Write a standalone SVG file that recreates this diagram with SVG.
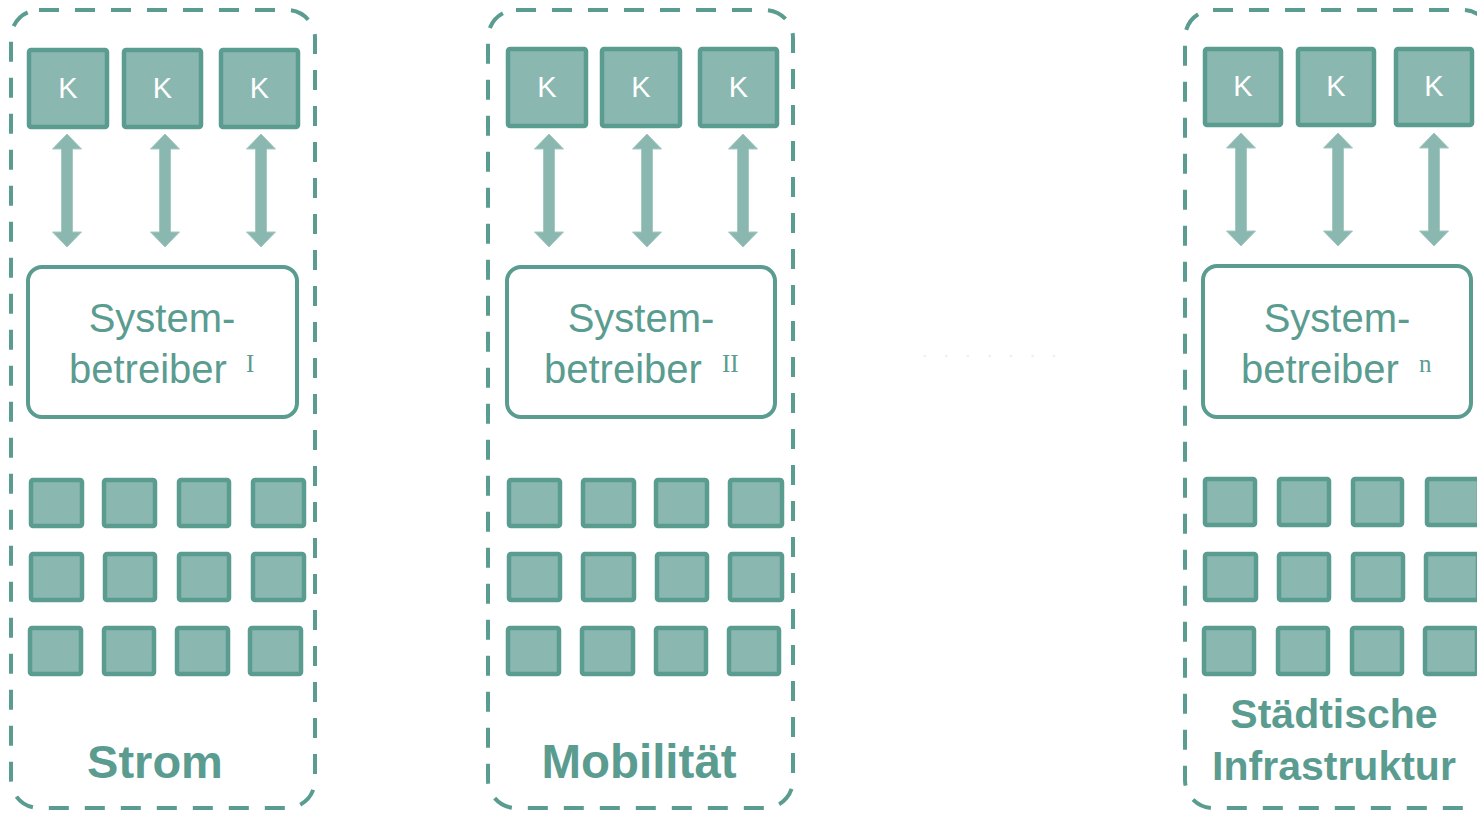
<svg xmlns="http://www.w3.org/2000/svg" xmlns:xlink="http://www.w3.org/1999/xlink" width="1477" height="813" viewBox="0 0 1477 813">
<style>
.panel{fill:none;stroke:#5a9c90;stroke-width:4;stroke-dasharray:20 16}
.k{fill:#8ab7af;stroke:#5a9c90;stroke-width:4.5}
.kt{fill:#ffffff;font-family:"Liberation Sans",Arial,sans-serif;font-size:29px;text-anchor:middle}
.sys{fill:#ffffff;stroke:#5a9c90;stroke-width:4}
.st{fill:#5a9c90;font-family:"Liberation Sans",Arial,sans-serif;font-size:40px}
.sup{fill:#5a9c90;font-family:"Liberation Serif","Times New Roman",serif;font-size:25px}
.sq{fill:#8ab7af;stroke:#5a9c90;stroke-width:4.5}
.lbl{fill:#5a9c90;font-family:"Liberation Sans",Arial,sans-serif;font-weight:bold;text-anchor:middle}
.arr{fill:#8ab7af;stroke:#a3c9c2;stroke-width:1}
</style>
<defs>
<path id="arrow" class="arr" d="M0,134 L14.5,149 L5.5,149 L5.5,232 L14.5,232 L0,247 L-14.5,232 L-5.5,232 L-5.5,149 L-14.5,149 Z"/>
</defs>
<rect width="1477" height="813" fill="#ffffff"/>

<!-- Panel 1: Strom -->
<g id="panel-strom">
<rect class="panel" x="11" y="10" width="304" height="798" rx="28"/>
<text class="lbl" x="155" y="778" font-size="47">Strom</text>
</g>
<g id="k1-1"><rect class="k" x="29" y="50" width="78" height="77" rx="2"/><text class="kt" x="68" y="98">K</text></g>
<g id="k1-2"><rect class="k" x="124" y="50" width="77" height="77" rx="2"/><text class="kt" x="162.5" y="98">K</text></g>
<g id="k1-3"><rect class="k" x="221" y="50" width="77" height="77" rx="2"/><text class="kt" x="259.5" y="98">K</text></g>
<g id="sys1">
<rect class="sys" x="28" y="267" width="269" height="150" rx="14"/>
<text class="st" x="162" y="332" text-anchor="middle">System-</text>
<text class="st" x="69" y="383">betreiber</text>
<text class="sup" x="246" y="372">I</text>
</g>
<g id="grid1">
<rect class="sq" x="31" y="480" width="51" height="46" rx="2"/>
<rect class="sq" x="104" y="480" width="51" height="46" rx="2"/>
<rect class="sq" x="179" y="480" width="50" height="46" rx="2"/>
<rect class="sq" x="253" y="480" width="51" height="46" rx="2"/>
<rect class="sq" x="31" y="554" width="51" height="46" rx="2"/>
<rect class="sq" x="105" y="554" width="50" height="46" rx="2"/>
<rect class="sq" x="179" y="554" width="50" height="46" rx="2"/>
<rect class="sq" x="253" y="554" width="51" height="46" rx="2"/>
<rect class="sq" x="30" y="628" width="51" height="46" rx="2"/>
<rect class="sq" x="104" y="628" width="50" height="46" rx="2"/>
<rect class="sq" x="177" y="628" width="51" height="46" rx="2"/>
<rect class="sq" x="250" y="628" width="51" height="46" rx="2"/>
</g>

<!-- Panel 2: Mobilität -->
<g id="panel-mobilitaet">
<rect class="panel" x="488" y="10" width="305" height="798" rx="28"/>
<text class="lbl" x="639" y="778" font-size="47.5">Mobilität</text>
</g>
<g id="k2-1"><rect class="k" x="508" y="49" width="78" height="77" rx="2"/><text class="kt" x="547" y="97">K</text></g>
<g id="k2-2"><rect class="k" x="602" y="49" width="78" height="77" rx="2"/><text class="kt" x="641" y="97">K</text></g>
<g id="k2-3"><rect class="k" x="700" y="49" width="77" height="77" rx="2"/><text class="kt" x="738.5" y="97">K</text></g>
<g id="sys2">
<rect class="sys" x="507" y="267" width="268" height="150" rx="14"/>
<text class="st" x="641" y="332" text-anchor="middle">System-</text>
<text class="st" x="544" y="383">betreiber</text>
<text class="sup" x="722" y="372">II</text>
</g>
<g id="grid2">
<rect class="sq" x="509" y="480" width="51" height="46" rx="2"/>
<rect class="sq" x="583" y="480" width="51" height="46" rx="2"/>
<rect class="sq" x="656" y="480" width="51" height="46" rx="2"/>
<rect class="sq" x="730" y="480" width="52" height="46" rx="2"/>
<rect class="sq" x="509" y="554" width="51" height="46" rx="2"/>
<rect class="sq" x="583" y="554" width="51" height="46" rx="2"/>
<rect class="sq" x="657" y="554" width="50" height="46" rx="2"/>
<rect class="sq" x="730" y="554" width="52" height="46" rx="2"/>
<rect class="sq" x="508" y="628" width="51" height="46" rx="2"/>
<rect class="sq" x="582" y="628" width="51" height="46" rx="2"/>
<rect class="sq" x="656" y="628" width="50" height="46" rx="2"/>
<rect class="sq" x="729" y="628" width="50" height="46" rx="2"/>
</g>

<!-- faint ellipsis -->
<g id="ellipsis">
<text x="922" y="357" font-family="'Liberation Sans',Arial,sans-serif" font-size="20" letter-spacing="16" fill="#eeeeee">.......</text>
</g>

<!-- Panel 3: Städtische Infrastruktur -->
<g id="panel-infrastruktur">
<rect class="panel" x="1185" y="10" width="306" height="798" rx="28"/>
<text class="lbl" x="1334" y="728" font-size="41">Städtische</text>
<text class="lbl" x="1334" y="780" font-size="41">Infrastruktur</text>
</g>
<g id="k3-1"><rect class="k" x="1205" y="49" width="76" height="76" rx="2"/><text class="kt" x="1243" y="96">K</text></g>
<g id="k3-2"><rect class="k" x="1298" y="49" width="76" height="76" rx="2"/><text class="kt" x="1336" y="96">K</text></g>
<g id="k3-3"><rect class="k" x="1396" y="49" width="76" height="76" rx="2"/><text class="kt" x="1434" y="96">K</text></g>
<g id="sys3">
<rect class="sys" x="1203" y="266" width="268" height="151" rx="14"/>
<text class="st" x="1337" y="332" text-anchor="middle">System-</text>
<text class="st" x="1241" y="383">betreiber</text>
<text class="sup" x="1419" y="372">n</text>
</g>
<g id="grid3">
<rect class="sq" x="1205" y="479" width="50" height="46" rx="2"/>
<rect class="sq" x="1279" y="479" width="50" height="46" rx="2"/>
<rect class="sq" x="1353" y="479" width="49" height="46" rx="2"/>
<rect class="sq" x="1427" y="479" width="52" height="46" rx="2"/>
<rect class="sq" x="1205" y="554" width="51" height="46" rx="2"/>
<rect class="sq" x="1279" y="554" width="50" height="46" rx="2"/>
<rect class="sq" x="1353" y="554" width="50" height="46" rx="2"/>
<rect class="sq" x="1426" y="554" width="52" height="46" rx="2"/>
<rect class="sq" x="1204" y="628" width="50" height="46" rx="2"/>
<rect class="sq" x="1278" y="628" width="50" height="46" rx="2"/>
<rect class="sq" x="1352" y="628" width="50" height="46" rx="2"/>
<rect class="sq" x="1425" y="628" width="52" height="46" rx="2"/>
</g>

<!-- Connectors -->
<g id="connectors">
<use xlink:href="#arrow" href="#arrow" x="67" y="0"/>
<use xlink:href="#arrow" href="#arrow" x="165" y="0"/>
<use xlink:href="#arrow" href="#arrow" x="261" y="0"/>
<use xlink:href="#arrow" href="#arrow" x="549" y="0"/>
<use xlink:href="#arrow" href="#arrow" x="647" y="0"/>
<use xlink:href="#arrow" href="#arrow" x="743" y="0"/>
<use xlink:href="#arrow" href="#arrow" x="1241" y="-1"/>
<use xlink:href="#arrow" href="#arrow" x="1338" y="-1"/>
<use xlink:href="#arrow" href="#arrow" x="1434" y="-1"/>
</g>
</svg>
